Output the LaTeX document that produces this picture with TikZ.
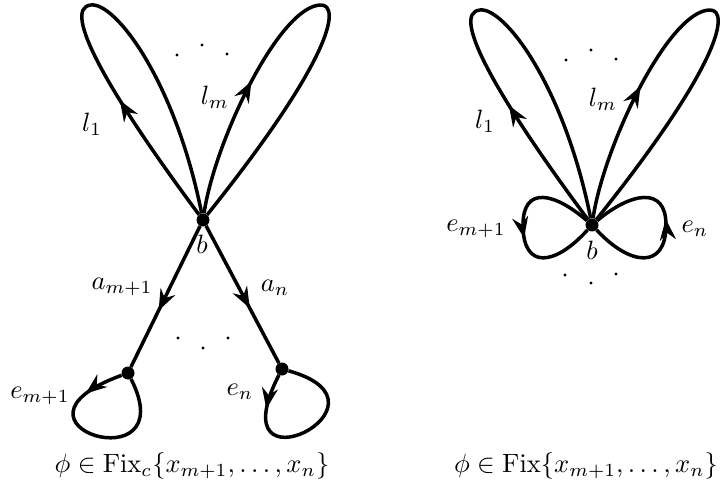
\documentclass[tikz,border=0pt]{standalone}
\usetikzlibrary{arrows.meta,decorations.markings}
\begin{document}
\begin{tikzpicture}[x=1pt,y=-1pt,
  edge/.style={line width=3.5pt},
  vdot/.style={circle,fill,inner sep=0pt,minimum size=13pt},
  lab/.style={scale=2.65,inner sep=0pt},
  sdot/.style={circle,fill,inner sep=0pt,minimum size=3.4pt},
  arr/.style={postaction={decorate},decoration={markings,mark=at position #1 with {\arrow{Stealth[length=21pt,width=16pt,inset=7pt]}}}},
]
\useasboundingbox (0,0) rectangle (721,503);
% ---------- left figure ----------
\node[vdot] (b) at (203,220) {};
\coordinate (t1) at (91,5);
\coordinate (tm) at (321,5);
\draw[edge,arr=0.56] (b) .. controls (110,95) and (60,8) .. (t1);
\draw[edge] (t1) .. controls (115,2) and (175,80) .. (b);
\draw[edge,arr=0.57] (b) .. controls (215,140) and (280,5) .. (tm);
\draw[edge] (tm) .. controls (340,5) and (335,55) .. (b);
\node[vdot] (v1) at (128,373) {};
\node[vdot] (v2) at (282,369) {};
\draw[edge,arr=0.6] (b) -- (v1);
\draw[edge,arr=0.6] (b) -- (v2);
\draw[edge,arr=0.21] (v1) .. controls (-15,425) and (185,485) .. (v1);
\draw[edge,arr=0.19] (v2) .. controls (215,500) and (408,404) .. (v2);
\node[sdot] (d1) at (177,55) {};
\node[sdot] (d2) at (202,45) {};
\node[sdot] (d3) at (227,54) {};
\node[sdot] (d4) at (178,338) {};
\node[sdot] (d5) at (203,348) {};
\node[sdot] (d6) at (228,338) {};
\node[lab] (ll1) at (92,124) {$l_1$};
\node[lab] (llm) at (215,97) {$l_m$};
\node[lab] (lb) at (202,244) {$b$};
\node[lab] (la1) at (122,287) {$a_{m+1}$};
\node[lab] (lan) at (275,288) {$a_n$};
\node[lab] (le1) at (40,396) {$e_{m+1}$};
\node[lab] (len) at (240,392) {$e_n$};
\node[lab] (cap1) at (192,466) {$\phi\in\mathrm{Fix}_c\{x_{m+1},\dots,x_n\}$};
% ---------- right figure ----------
\node[vdot] (b2) at (592,225) {};
\coordinate (s1) at (480,10);
\coordinate (sm) at (710,10);
\coordinate (wl) at (523,225);
\coordinate (wr) at (666,225);
\draw[edge,arr=0.56] (b2) .. controls (499,100) and (449,13) .. (s1);
\draw[edge] (s1) .. controls (504,7) and (564,85) .. (b2);
\draw[edge,arr=0.57] (b2) .. controls (604,145) and (669,10) .. (sm);
\draw[edge] (sm) .. controls (729,10) and (724,60) .. (b2);
\draw[edge,arr=0.55] (b2) .. controls (555,193) and (523,185) .. (wl) .. controls (523,270) and (555,266) .. (b2);
\draw[edge,arr=0.55] (b2) .. controls (630,266) and (666,270) .. (wr) .. controls (666,185) and (630,193) .. (b2);
\node[sdot] (d7) at (566,60) {};
\node[sdot] (d8) at (591,50) {};
\node[sdot] (d9) at (616,59) {};
\node[sdot] (d10) at (565,275) {};
\node[sdot] (d11) at (591,283) {};
\node[sdot] (d12) at (616,274) {};
\node[lab] (rl1) at (485,121) {$l_1$};
\node[lab] (rlm) at (603,99) {$l_m$};
\node[lab] (rb) at (592,250) {$b$};
\node[lab] (re1) at (476,229) {$e_{m+1}$};
\node[lab] (ren) at (695,229) {$e_n$};
\node[lab] (cap2) at (586,466) {$\phi\in\mathrm{Fix}\{x_{m+1},\dots,x_n\}$};
\end{tikzpicture}
\end{document}
